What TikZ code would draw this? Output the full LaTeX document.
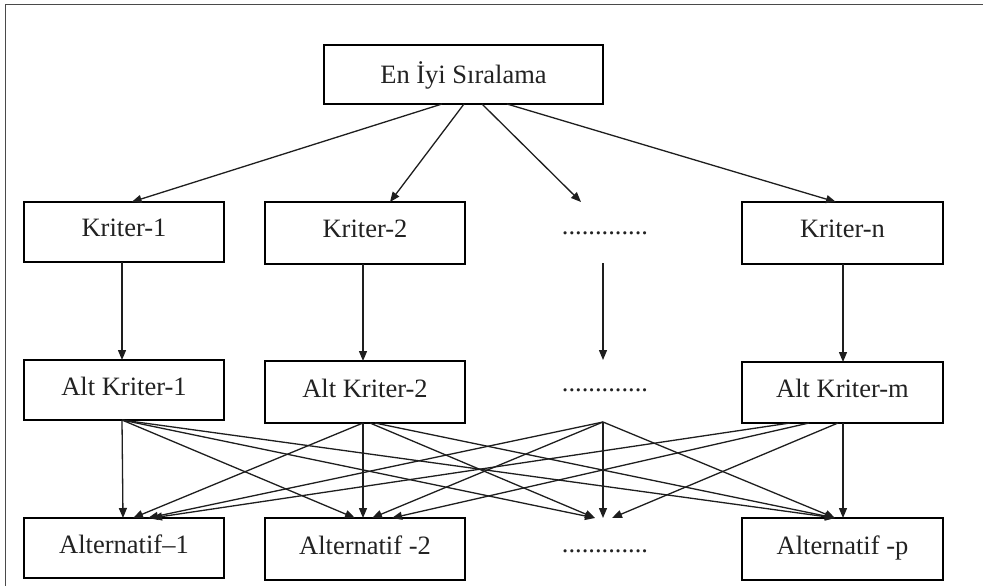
\documentclass[tikz,border=0pt]{standalone}
\usepackage{fontspec}
\setmainfont{Liberation Serif}
\usetikzlibrary{arrows.meta}
\definecolor{txt}{HTML}{222222}
\definecolor{ln}{HTML}{1E1E1E}
\definecolor{fr}{HTML}{4A4A4A}
\tikzset{
  box/.style={draw=black, line width=1.6pt, inner sep=0pt, outer sep=0pt,
    font=\fontsize{26.5}{30}\selectfont, text=txt, text depth=8pt},
  dotstext/.style={inner sep=0pt, font=\fontsize{26.5}{30}\selectfont, text=txt},
  arr/.style={draw=ln, line width=1.3pt, -{Triangle[length=10pt,width=8pt]}},
}
\begin{document}
\begin{tikzpicture}[x=1pt,y=-1pt]
\useasboundingbox (0,0) rectangle (983,586);
\fill[white] (0,0) rectangle (983,586);
% frame
\draw[fr, line width=1.6pt] (5.5,590) -- (5.5,4.5) -- (990,4.5);

% top
\node[box, text depth=3pt, minimum width=279pt, minimum height=59pt] (top) at (463.5,74.5) {En İyi Sıralama};

% criteria row
\node[box, minimum width=200pt, minimum height=60pt] (k1) at (124,232) {Kriter-1};
\node[box, minimum width=200pt, minimum height=62pt] (k2) at (365,233) {Kriter-2};
\node[dotstext] (kd) at (605,233) {.............};
\node[box, minimum width=201pt, minimum height=62pt] (kn) at (842.5,233) {Kriter-n};

% sub-criteria row
\node[box, minimum width=200pt, minimum height=60pt] (a1) at (124,390) {Alt Kriter-1};
\node[box, minimum width=200pt, minimum height=62pt] (a2) at (365,392) {Alt Kriter-2};
\node[dotstext] (ad) at (605,390) {.............};
\node[box, minimum width=201pt, minimum height=61pt] (am) at (842.5,392.5) {Alt Kriter-m};

% alternatives row
\node[box, minimum width=200pt, minimum height=60pt] (b1) at (124,548) {Alternatif–1};
\node[box, minimum width=200pt, minimum height=62pt] (b2) at (365,549) {Alternatif -2};
\node[dotstext] (bd) at (605,551) {.............};
\node[box, minimum width=201pt, minimum height=62pt] (bp) at (842.5,549) {Alternatif -p};

% free ends for the dotted column
\coordinate (kdin) at (581,202);
\coordinate (kdout) at (603,263);
\coordinate (adin) at (603,360);
\coordinate (adout) at (603,422);
\coordinate (bdl) at (595,518);
\coordinate (bdc) at (603,518);
\coordinate (bdr) at (612,518);

% top -> criteria
\draw[arr] ([xshift=-21.5pt]top.south) -- ([xshift=7.6pt]k1.north);
\draw[arr] ([xshift=0.5pt]top.south) -- ([xshift=25pt]k2.north);
\draw[arr] ([xshift=18.5pt]top.south) -- (kdin);
\draw[arr] ([xshift=43.5pt]top.south) -- ([xshift=-6.5pt]kn.north);

% criteria -> sub-criteria
\draw[arr] ([xshift=-2pt]k1.south) -- ([xshift=-2pt]a1.north);
\draw[arr] ([xshift=-2pt]k2.south) -- ([xshift=-2pt]a2.north);
\draw[arr] (kdout) -- (adin);
\draw[arr] ([xshift=0.5pt]kn.south) -- ([xshift=0.5pt]am.north);

% sub-criteria -> alternatives
% from a1
\draw[arr] ([xshift=-2pt]a1.south) -- ([xshift=-1pt]b1.north);
\draw[arr] ([xshift=-2pt]a1.south) -- ([xshift=-10pt]b2.north);
\draw[arr] ([xshift=-2pt]a1.south) -- (bdl);
\draw[arr] ([xshift=-2pt]a1.south) -- ([xshift=-7.5pt]bp.north);
% from a2
\draw[arr] ([xshift=-2pt]a2.south) -- ([xshift=9pt]b1.north);
\draw[arr] ([xshift=-2pt]a2.south) -- ([xshift=-2pt]b2.north);
\draw[arr] ([xshift=5pt]a2.south) -- (bdl);
\draw[arr] ([xshift=10pt]a2.south) -- ([xshift=-7.5pt]bp.north);
% from dotted column
\draw[arr] (adout) -- ([xshift=24pt]b1.north);
\draw[arr] (adout) -- ([xshift=7pt]b2.north);
\draw[arr] (adout) -- (bdc);
\draw[arr] (adout) -- ([xshift=-7.5pt]bp.north);
% from am
\draw[arr] ([xshift=-52.5pt]am.south) -- ([xshift=28pt]b1.north);
\draw[arr] ([xshift=-33.5pt]am.south) -- ([xshift=27pt]b2.north);
\draw[arr] ([xshift=-4.5pt]am.south) -- (bdr);
\draw[arr] ([xshift=0.5pt]am.south) -- ([xshift=0.5pt]bp.north);
\end{tikzpicture}
\end{document}
